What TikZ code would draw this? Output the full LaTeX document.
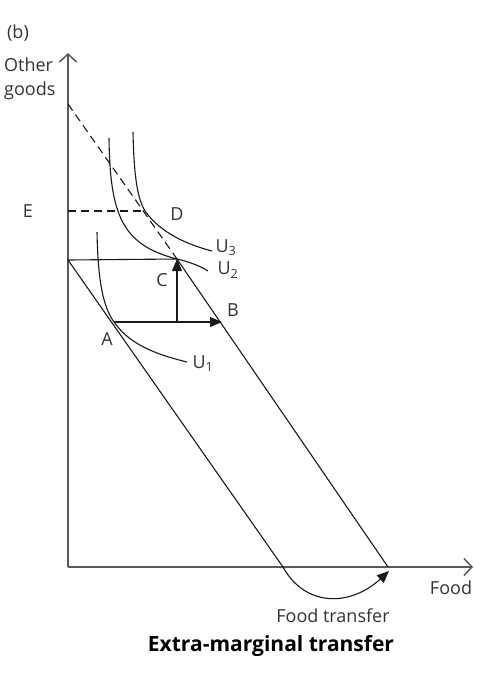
\documentclass[tikz,border=0pt]{standalone}
\usepackage{fontspec}
\setmainfont{Open Sans}
\usetikzlibrary{arrows.meta}

\tikzset{
  axis/.style={draw=black!65, line width=1.5pt, -{Straight Barb[length=8pt,width=17pt]}},
  curve/.style={line width=1.1pt, draw=black!90},
  tip/.style={line width=1.1pt, draw=black!90, -{Triangle[length=12pt,width=10pt]}},
  lbl/.style={inner sep=0pt, text=black!80}
}

\begin{document}
\begin{tikzpicture}[x=1pt, y=-1pt, font=\fontsize{18}{20}\selectfont]
    \useasboundingbox (0,0) rectangle (494,675);
    % points of the diagram
    \coordinate (o) at (68,567);
    \coordinate (ytop) at (68,53);
    \coordinate (xend) at (473,567);
    \coordinate (y0) at (68,104);
    \coordinate (k) at (68,260);
    \coordinate (c) at (177,259);
    \coordinate (x1) at (283,567);
    \coordinate (x2) at (388,567);
    \coordinate (ft) at (389,571);
    \coordinate (a) at (114,322);
    \coordinate (b) at (222,322);
    \coordinate (m) at (177,322);
    \coordinate (e) at (68,211);
    \coordinate (d) at (145,211);

    % axes
    \draw[axis] (o) -- (ytop);
    \draw[axis] (o) -- (xend);

    % budget lines
    \draw[curve] (k) -- (x1);
    \draw[curve] (k) -- (c) -- (x2);
    \draw[curve, dash pattern=on 8pt off 5pt] (y0) -- (c);
    \draw[curve, dash pattern=on 8pt off 5pt] (e) -- (d);

    % indifference curves
    \draw[curve] (97,232) .. controls (98,285) and (104,308) .. (a)
                 .. controls (128,342) and (150,353) .. (187,362);
    \draw[curve] (109,138) .. controls (110,215) and (122,245) .. (c)
                 .. controls (190,262) and (200,266) .. (208,271);
    \draw[curve] (133,132) .. controls (134,180) and (138,199) .. (d)
                 .. controls (160,232) and (185,244) .. (212,251);

    % moves
    \draw[tip] (a) -- (b);
    \draw[tip] (m) -- (c);
    \draw[tip] (x1) .. controls (305,607) and (350,607) .. (ft);

    % labels
    \node[lbl] (lb) at (18,33) {(b)};
    \node[lbl, align=left, anchor=north west] (ly) at (4,58) {Other\\[4pt]goods};
    \node[lbl] (le) at (28,211) {E};
    \node[lbl] (ld) at (177,214) {D};
    \node[lbl] (lc) at (162,280) {C};
    \node[lbl] (lbb) at (233,310) {B};
    \node[lbl] (la) at (107,339) {A};
    \node[lbl] (lu1) at (203,364) {U\textsubscript{1}};
    \node[lbl] (lu2) at (228,270) {U\textsubscript{2}};
    \node[lbl] (lu3) at (226,248) {U\textsubscript{3}};
    \node[lbl] (lf) at (451,588) {Food};
    \node[lbl] (lft) at (333,616) {Food transfer};
    \node[lbl, text=black, font=\fontsize{21}{24}\selectfont\bfseries] (lt) at (271,646) {Extra-marginal transfer};
\end{tikzpicture}
\end{document}
